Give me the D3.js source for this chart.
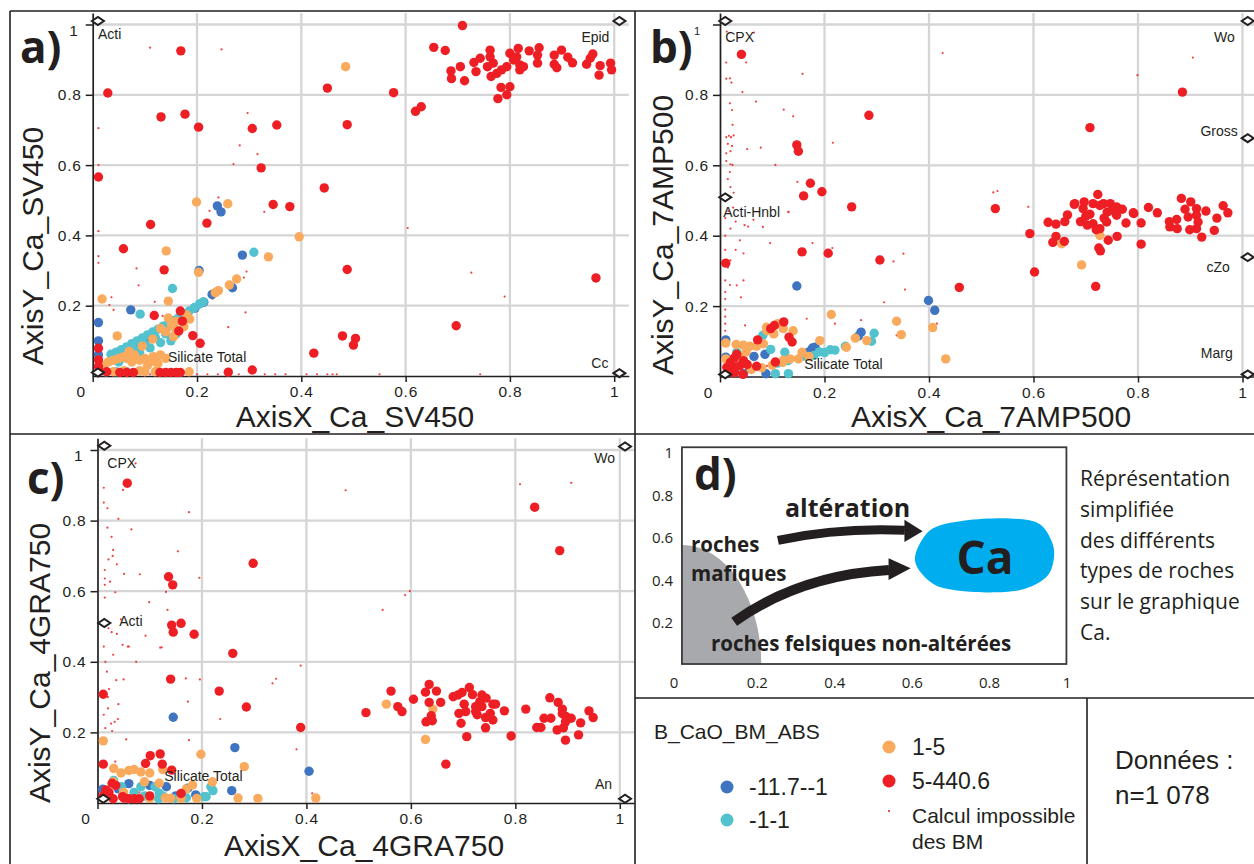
<!DOCTYPE html>
<html><head><meta charset="utf-8">
<script src="https://cdn.jsdelivr.net/npm/d3@7"></script>
<style>
body{margin:0;background:#fff}
svg{display:block}
</style></head><body>
<svg id="chart" width="1254" height="864"></svg>
<script>
// ---------------- DATA ----------------
const tickValues = [0, 0.2, 0.4, 0.6, 0.8, 1];
const tickLabels = ["0", "0.2", "0.4", "0.6", "0.8", "1"];
const legendTitle = "B_CaO_BM_ABS";
const classLabels = ["-11.7--1", "-1-1", "1-5", "5-440.6", "Calcul impossible", "des BM"];
const countLabel = ["Données :", "n=1 078"];

// Panel a) AxisX_Ca_SV450 / AxisY_Ca_SV450
const aRed = [[0.169,0.925],[0.029,0.805],[0.131,0.737],[0.177,0.745],[0.203,0.708],[0.306,0.704],[0.353,0.714],[0.011,0.566],[0.323,0.592],[0.346,0.488],[0.378,0.482],
[0.709,0.997],[0.654,0.935],[0.676,0.926],[0.687,0.868],[0.688,0.846],[0.705,0.880],[0.713,0.840],[0.731,0.892],[0.735,0.866],[0.743,0.904],[0.757,0.880],[0.762,0.927],[0.762,0.908],[0.768,0.890],[0.764,0.852],[0.775,0.861],[0.784,0.871],[0.794,0.880],[0.800,0.918],[0.807,0.899],[0.816,0.932],[0.819,0.885],[0.826,0.880],[0.813,0.908],[0.819,0.871],[0.783,0.821],[0.800,0.823],[0.777,0.789],[0.794,0.800],[0.837,0.925],[0.856,0.934],[0.853,0.913],[0.853,0.890],[0.885,0.913],[0.899,0.927],[0.885,0.887],[0.890,0.877],[0.911,0.907],[0.920,0.891],[0.947,0.887],[0.954,0.904],[0.959,0.916],[0.973,0.883],[0.971,0.856],[0.993,0.890],[0.995,0.871],
[0.450,0.819],[0.577,0.806],[0.619,0.753],[0.630,0.766],[0.488,0.715],[0.444,0.535],
[0.111,0.431],[0.219,0.435],[0.059,0.362],[0.137,0.302],[0.118,0.172],[0.168,0.185],[0.165,0.128],[0.192,0.115],[0.206,0.093],[0.172,0.156],
[0.011,0.079],[0.011,0.046],[0.011,0.027],[0.013,0.013],[0.027,0.012],[0.052,0.010],[0.065,0.010],[0.078,0.010],[0.129,0.010],[0.140,0.010],[0.150,0.010],[0.160,0.010],[0.168,0.010],[0.260,0.011],[0.306,0.017],[0.424,0.065],
[0.488,0.303],[0.479,0.114],[0.504,0.107],[0.500,0.088],[0.697,0.143],[0.965,0.279]];
const aOrange = [[0.485,0.880],[0.199,0.495],[0.259,0.490],[0.396,0.396],[0.141,0.356],[0.337,0.339],[0.203,0.295],[0.018,0.219],[0.145,0.213],[0.276,0.276],[0.262,0.259],[0.241,0.243],[0.235,0.237],[0.047,0.114],
[0.180,0.174],[0.186,0.162],[0.151,0.145],[0.155,0.112],[0.140,0.126],[0.130,0.135],[0.116,0.055],[0.122,0.046],[0.100,0.050],[0.090,0.045],[0.080,0.060],[0.070,0.070],[0.060,0.055],[0.050,0.050],[0.040,0.045],[0.030,0.040],[0.110,0.040],[0.125,0.035],[0.185,0.012],[0.120,0.012],[0.100,0.012],[0.090,0.015],[0.040,0.012],[0.060,0.015],[0.095,0.085],[0.115,0.105],[0.145,0.165],[0.160,0.155],[0.065,0.050],[0.075,0.040],[0.105,0.030],[0.130,0.060],[0.140,0.050],[0.020,0.030],[0.175,0.140],[0.160,0.130]];
const aBlue = [[0.239,0.484],[0.246,0.467],[0.287,0.344],[0.204,0.300],[0.268,0.251],[0.229,0.232],[0.213,0.210],[0.073,0.188],[0.011,0.152],[0.011,0.100],[0.196,0.193],[0.078,0.083],[0.011,0.060],[0.060,0.060],[0.100,0.095],[0.140,0.130]];
const aCyan = [[0.309,0.352],[0.153,0.249],[0.091,0.176],[0.212,0.211],[0.205,0.205],[0.035,0.062],[0.045,0.068],[0.055,0.075],[0.065,0.083],[0.075,0.092],[0.085,0.100],[0.095,0.108],[0.105,0.117],[0.115,0.125],[0.125,0.133],[0.135,0.142],[0.145,0.150],[0.155,0.158],[0.165,0.166],[0.175,0.175],[0.185,0.185],[0.195,0.195],[0.060,0.060],[0.080,0.075],[0.100,0.090],[0.120,0.110],[0.140,0.120],[0.130,0.095],[0.110,0.080],[0.090,0.065],[0.070,0.050],[0.050,0.040],[0.025,0.012],[0.045,0.012],[0.065,0.012],[0.160,0.120],[0.150,0.100]];
const aSmall = [[0.110,0.934],[0.247,0.929],[0.011,0.705],[0.011,0.600],[0.297,0.748],[0.282,0.656],[0.316,0.631],[0.270,0.603],[0.241,0.508],[0.224,0.470],[0.329,0.467],[0.011,0.412],[0.011,0.341],[0.011,0.322],[0.084,0.306],[0.088,0.258],[0.119,0.211],[0.036,0.224],[0.032,0.202],[0.040,0.188],[0.295,0.297],[0.293,0.181],[0.260,0.139],[0.134,0.171],[0.604,0.421],[0.726,0.294],[0.790,0.226],
[0.060,0.005],[0.090,0.005],[0.110,0.005],[0.180,0.005],[0.200,0.005],[0.220,0.005],[0.240,0.005],[0.280,0.005],[0.330,0.005],[0.350,0.005],[0.370,0.005],[0.410,0.005],[0.430,0.005],[0.450,0.005],[0.460,0.005],[0.468,0.005],[0.550,0.005],[0.743,0.005],
[0.050,0.050],[0.080,0.080],[0.110,0.100],[0.140,0.130],[0.170,0.160],[0.230,0.220],[0.260,0.250],[0.290,0.280]];
const aEnds = [["Acti",0.01,1.01],["Epid",1.01,1.01],["Cc",1.01,0.008],["Silicate Total",0.01,0.01]];

// Panel b) AxisX_Ca_7AMP500 / AxisY_Ca_7AMP500
const bRed = [[0.041,0.915],[0.285,0.742],[0.147,0.658],[0.150,0.640],[0.173,0.549],[0.160,0.513],[0.195,0.525],[0.252,0.482],
[0.885,0.808],[0.708,0.707],[0.527,0.477],[0.458,0.253],[0.602,0.297],[0.593,0.406],[0.719,0.256],[0.628,0.438],[0.643,0.433],[0.665,0.459],[0.637,0.381],[0.643,0.398],[0.659,0.384],
[0.679,0.491],[0.697,0.496],[0.723,0.517],[0.714,0.491],[0.734,0.491],[0.747,0.491],[0.759,0.482],[0.792,0.463],[0.837,0.465],[0.883,0.506],[0.901,0.496],[0.912,0.477],[0.963,0.485],[0.972,0.465],
[0.678,0.489],[0.695,0.477],[0.708,0.461],[0.727,0.486],[0.741,0.467],[0.759,0.458],[0.740,0.439],[0.777,0.436],[0.791,0.465],[0.806,0.436],[0.861,0.425],[0.874,0.446],[0.875,0.420],[0.896,0.453],[0.912,0.458],[0.915,0.439],[0.899,0.417],[0.912,0.420],[0.946,0.415],[0.951,0.450],[0.922,0.396],[0.703,0.430],[0.714,0.434],[0.727,0.420],[0.720,0.417],[0.743,0.387],[0.760,0.398],[0.725,0.365],[0.728,0.357],[0.806,0.376],
[0.752,0.472],[0.770,0.475],[0.700,0.455],[0.690,0.440],[0.735,0.450],[0.660,0.440],[0.860,0.440],[0.890,0.475],[0.930,0.470],[0.820,0.480],
[0.011,0.322],[0.157,0.354],[0.207,0.350],[0.306,0.331],[0.122,0.155],[0.104,0.145],[0.097,0.136],[0.072,0.104],[0.132,0.112],[0.138,0.098],[0.106,0.041],[0.032,0.063],[0.027,0.052],[0.013,0.026],[0.029,0.026],[0.038,0.031],[0.052,0.034],[0.070,0.029],[0.015,0.011],[0.028,0.011],[0.044,0.006],[0.020,0.040],[0.045,0.045]];
const bOrange = [[0.213,0.176],[0.338,0.157],[0.347,0.119],[0.407,0.139],[0.432,0.050],[0.281,0.102],[0.259,0.109],[0.242,0.083],[0.191,0.102],[0.121,0.136],[0.089,0.140],[0.103,0.121],[0.083,0.093],[0.070,0.086],[0.057,0.086],[0.045,0.089],[0.031,0.091],[0.011,0.095],[0.011,0.050],[0.038,0.055],[0.157,0.069],[0.134,0.050],[0.121,0.046],[0.060,0.020],[0.080,0.025],[0.100,0.032],[0.120,0.040],[0.150,0.050],[0.170,0.057],[0.692,0.317],[0.727,0.401],[0.654,0.377],[0.140,0.130],[0.110,0.150],[0.090,0.130],[0.020,0.030],[0.050,0.070]];
const bBlue = [[0.147,0.257],[0.399,0.216],[0.411,0.188],[0.270,0.126],[0.065,0.057],[0.086,0.063],[0.011,0.104],[0.011,0.055],[0.088,0.008],[0.177,0.081],[0.182,0.083],[0.045,0.008],[0.170,0.070],[0.265,0.115]];
const bCyan = [[0.295,0.123],[0.290,0.100],[0.240,0.086],[0.211,0.076],[0.097,0.077],[0.082,0.117],[0.131,0.008],[0.106,0.008],[0.124,0.069],[0.032,0.069],[0.130,0.045],[0.180,0.060],[0.200,0.068],[0.220,0.075],[0.190,0.070],[0.160,0.058],[0.110,0.038]];
const bSmall = [[0.012,0.892],[0.012,0.846],[0.019,0.847],[0.022,0.835],[0.019,0.776],[0.023,0.757],[0.024,0.715],[0.017,0.684],[0.021,0.680],[0.026,0.685],[0.012,0.680],[0.015,0.661],[0.023,0.655],[0.020,0.640],[0.012,0.634],[0.012,0.612],[0.020,0.603],[0.024,0.601],[0.019,0.581],[0.015,0.561],[0.020,0.538],[0.026,0.522],[0.050,0.892],[0.043,0.808],[0.069,0.781],[0.052,0.646],[0.078,0.650],[0.106,0.601],[0.122,0.758],[0.140,0.739],[0.158,0.860],[0.216,0.664],[0.148,0.553],[0.131,0.467],[0.065,0.977],[0.013,0.980],[0.426,0.919],[0.905,0.906],[0.799,0.856],[0.523,0.523],[0.531,0.527],[0.590,0.482],
[0.010,0.273],[0.010,0.240],[0.010,0.220],[0.010,0.190],[0.010,0.170],[0.010,0.150],[0.010,0.130],[0.010,0.400],[0.010,0.360],[0.010,0.450],[0.019,0.260],[0.032,0.259],[0.040,0.225],[0.045,0.273],[0.047,0.430],[0.054,0.426],[0.064,0.445],[0.082,0.425],[0.096,0.379],[0.131,0.468],[0.177,0.379],[0.215,0.365],[0.332,0.327],[0.351,0.349],[0.354,0.247],[0.314,0.211],[0.270,0.160],[0.220,0.150],[0.166,0.164],[0.048,0.145],[0.338,0.117],[0.415,0.150],[0.045,0.350],[0.030,0.360],[0.038,0.387],[0.050,0.020],[0.090,0.030],[0.130,0.045],[0.160,0.055],[0.190,0.065],[0.012,0.500],[0.016,0.470],[0.025,0.480],[0.030,0.440],[0.020,0.420],[0.015,0.310],[0.020,0.330]];
const bEnds = [["CPX",0.01,1.01],["Wo",1.01,1.01],["Gross",1.01,0.677],["Acti-Hnbl",0.01,0.509],["cZo",1.01,0.339],["Marg",1.01,0.006],["Silicate Total",0.01,0.006]];

// Panel c) AxisX_Ca_4GRA750 / AxisY_Ca_4GRA750
const cRed = [[0.057,0.906],[0.298,0.679],[0.136,0.641],[0.144,0.618],[0.142,0.504],[0.160,0.509],[0.145,0.484],[0.185,0.478],[0.837,0.838],[0.885,0.715],
[0.259,0.424],[0.140,0.351],[0.011,0.308],[0.233,0.317],[0.285,0.272],[0.389,0.214],[0.011,0.110],[0.101,0.134],[0.120,0.139],[0.092,0.112],[0.124,0.110],[0.142,0.093],[0.028,0.056],[0.035,0.050],[0.016,0.037],[0.022,0.030],[0.048,0.018],[0.051,0.014],[0.060,0.012],[0.070,0.012],[0.160,0.027],[0.667,0.110],
[0.514,0.256],[0.562,0.317],[0.575,0.273],[0.583,0.259],[0.605,0.294],[0.628,0.314],[0.635,0.336],[0.649,0.317],[0.635,0.285],[0.657,0.285],[0.629,0.230],[0.639,0.247],[0.641,0.233],[0.681,0.301],[0.690,0.306],[0.698,0.313],[0.712,0.327],[0.718,0.307],[0.702,0.280],[0.692,0.254],[0.705,0.259],[0.696,0.226],[0.707,0.188],[0.724,0.273],[0.724,0.259],[0.732,0.287],[0.736,0.306],[0.744,0.297],[0.736,0.273],[0.727,0.250],[0.743,0.242],[0.757,0.280],[0.762,0.280],[0.752,0.254],[0.757,0.235],[0.743,0.213],[0.779,0.261],[0.792,0.190],[0.820,0.266],[0.841,0.214],[0.849,0.214],[0.855,0.240],[0.866,0.298],[0.868,0.240],[0.880,0.207],[0.882,0.285],[0.890,0.266],[0.890,0.253],[0.896,0.230],[0.892,0.213],[0.897,0.245],[0.896,0.178],[0.907,0.240],[0.921,0.193],[0.925,0.227],[0.941,0.261],[0.949,0.242],[0.011,0.020],[0.030,0.012],[0.080,0.012],[0.100,0.020]];
const cOrange = [[0.553,0.280],[0.642,0.266],[0.628,0.180],[0.011,0.176],[0.198,0.138],[0.281,0.103],[0.031,0.098],[0.045,0.085],[0.060,0.092],[0.070,0.095],[0.083,0.088],[0.100,0.085],[0.118,0.056],[0.182,0.051],[0.307,0.013],[0.269,0.014],[0.418,0.014],[0.130,0.015],[0.080,0.013],[0.100,0.013],[0.140,0.013],[0.160,0.013],[0.190,0.013],[0.030,0.060],[0.220,0.060],[0.050,0.030],[0.125,0.095],[0.170,0.040],[0.090,0.060]];
const cBlue = [[0.145,0.243],[0.263,0.157],[0.405,0.090],[0.257,0.035],[0.132,0.046],[0.060,0.055],[0.173,0.042],[0.188,0.023],[0.010,0.039],[0.100,0.050],[0.040,0.040],[0.150,0.020]];
const cCyan = [[0.217,0.046],[0.221,0.035],[0.110,0.046],[0.118,0.028],[0.083,0.046],[0.046,0.046],[0.031,0.064],[0.204,0.018],[0.208,0.018],[0.117,0.012],[0.146,0.012],[0.070,0.030],[0.090,0.020],[0.125,0.020],[0.060,0.012],[0.170,0.015]];
const cSmall = [[0.012,0.893],[0.012,0.851],[0.019,0.835],[0.040,0.805],[0.065,0.775],[0.019,0.780],[0.027,0.754],[0.030,0.717],[0.029,0.700],[0.021,0.690],[0.014,0.660],[0.037,0.676],[0.014,0.636],[0.024,0.627],[0.014,0.618],[0.034,0.597],[0.051,0.649],[0.081,0.648],[0.099,0.569],[0.131,0.598],[0.134,0.547],[0.154,0.713],[0.175,0.824],[0.195,0.638],[0.073,0.962],[0.049,0.887],[0.014,0.582],[0.021,0.495],[0.027,0.484],[0.037,0.479],[0.092,0.474],[0.058,0.443],[0.123,0.441],[0.475,0.886],[0.809,0.903],[0.907,0.907],[0.589,0.589],[0.598,0.600],[0.546,0.547],[0.012,0.443],[0.048,0.448],[0.060,0.443],[0.018,0.372],[0.036,0.348],[0.020,0.268],[0.026,0.225],[0.033,0.230],[0.015,0.212],[0.028,0.204],[0.039,0.238],[0.055,0.180],[0.022,0.323],[0.034,0.117],[0.169,0.353],[0.173,0.287],[0.196,0.350],[0.235,0.238],[0.175,0.178],[0.335,0.339],[0.342,0.352],[0.389,0.389],[0.381,0.152],[0.411,0.027],[0.074,0.400],[0.120,0.440],[0.015,0.400],[0.030,0.420],[0.020,0.300],[0.040,0.280],[0.012,0.250],[0.050,0.350],[0.045,0.520],[0.100,0.090],[0.080,0.030]];
const cEnds = [["CPX",0.013,1.012],["Wo",1.01,1.01],["Acti",0.013,0.51],["An",1.01,0.012],["Silicate Total",0.011,0.012]];

// Panel d) schematic (values in the schematic's own 0-1 axes)
const dTickValues = [0, 0.2, 0.4, 0.6, 0.8, 1];
const dBlob = [[0.607,0.495],[0.646,0.636],[0.736,0.682],[0.853,0.692],[0.930,0.665],[0.966,0.551],[0.951,0.425],[0.879,0.355],[0.762,0.346],[0.659,0.379]];
const dArrowTop = [[0.253,0.589],[0.413,0.650],[0.581,0.636]];
const dArrowTopHead = [[0.580,0.686],[0.627,0.632],[0.580,0.581]];
const dArrowBottom = [[0.140,0.206],[0.310,0.425],[0.540,0.449]];
const dArrowBottomHead = [[0.539,0.505],[0.596,0.458],[0.539,0.402]];
const dFelsicRegion = {rx: 0.205, ry: 0.56};
const dNote = ["Réprésentation","simplifiée","des différents","types de roches","sur le graphique","Ca."];

// ---------------- STYLE / LAYOUT ----------------
const INK = "#231f20";
const COL = {blue:"#3f74c1", cyan:"#52c3ce", orange:"#f9aa5d", red:"#ed1f24", small:"#ed1f24"};
const SANS = "'Liberation Sans', Arial, sans-serif";
const HUM = "'Open Sans', 'Noto Sans', sans-serif";
const svg = d3.select("#chart");

const endLabelStyle = {
  a:{"Acti":[0,18,"start"],"Epid":[-10,21,"end"],"Cc":[-11,-5,"end"],"Silicate Total":[70,-10,"start"]},
  b:{"CPX":[0,21,"start"],"Wo":[-13,21,"end"],"Gross":[-10,-2,"end"],"Acti-Hnbl":[-2,20,"start"],"cZo":[-18,15,"end"],"Marg":[-15,-16,"end"],"Silicate Total":[79,-5,"start"]},
  c:{"CPX":[3,22,"start"],"Wo":[-10,17,"end"],"Acti":[15,3,"start"],"An":[-13,-10,"end"],"Silicate Total":[61,-18,"start"]}
};

const panels = [
  {id:"a", xr:[92.7,614.2], yr:[376,24.5], pts:{small:aSmall,blue:aBlue,cyan:aCyan,orange:aOrange,red:aRed}, ends:aEnds,
   xTitle:"AxisX_Ca_SV450", yTitle:"AxisY_Ca_SV450", xt:[355,427], yt:[43,246], label:"a)", lp:[20,63], oneSmall:false},
  {id:"b", xr:[720,1242.5], yr:[376.5,24.5], pts:{small:bSmall,blue:bBlue,cyan:bCyan,orange:bOrange,red:bRed}, ends:bEnds,
   xTitle:"AxisX_Ca_7AMP500", yTitle:"AxisY_Ca_7AMP500", xt:[991,427], yt:[673,235], label:"b)", lp:[650,63], oneSmall:true},
  {id:"c", xr:[97.5,619.8], yr:[803,450], pts:{small:cSmall,blue:cBlue,cyan:cCyan,orange:cOrange,red:cRed}, ends:cEnds,
   xTitle:"AxisX_Ca_4GRA750", yTitle:"AxisY_Ca_4GRA750", xt:[364,856], yt:[50,663], label:"c)", lp:[27,494], oneSmall:false}
];

function drawPanel(p){
  const g = svg.append("g").attr("class","panel-"+p.id);
  const ext = 1.028;
  const x = d3.scaleLinear().domain([0,1]).range(p.xr);
  const y = d3.scaleLinear().domain([0,1]).range(p.yr);
  const gridVals = tickValues.filter(v => v > 0);
  g.append("g").selectAll("line").data(gridVals).join("line")
    .attr("x1", d => x(d)).attr("x2", d => x(d)).attr("y1", y(0)).attr("y2", y(ext + 0.005))
    .attr("stroke", "#d5d5d5").attr("stroke-width", 2.3);
  g.append("g").selectAll("line").data(gridVals).join("line")
    .attr("y1", d => y(d)).attr("y2", d => y(d)).attr("x1", x(0)).attr("x2", x(ext))
    .attr("stroke", "#d5d5d5").attr("stroke-width", 2.3);
  const xa = d3.scaleLinear().domain([0, ext]).range([x(0), x(ext)]);
  const ya = d3.scaleLinear().domain([0, ext + 0.005]).range([y(0), y(ext + 0.005)]);
  const gx = g.append("g").attr("transform", `translate(0,${y(0)})`)
    .call(d3.axisBottom(xa).tickValues(tickValues).tickFormat((d,i) => tickLabels[i]).tickSize(6).tickSizeOuter(0).tickPadding(4));
  const gy = g.append("g").attr("transform", `translate(${x(0)},0)`)
    .call(d3.axisLeft(ya).tickValues(tickValues.slice(1)).tickFormat((d,i) => tickLabels[i+1]).tickSize(7).tickSizeOuter(0).tickPadding(4));
  [gx, gy].forEach(ax => {
    ax.attr("font-family", null).attr("font-size", null);
    ax.select(".domain").attr("stroke", INK).attr("stroke-width", 1.7);
    ax.selectAll(".tick line").attr("stroke", INK).attr("stroke-width", 1.5);
    ax.selectAll(".tick text").attr("fill", INK).style("font-family", SANS).style("font-size", "15.5px").style("letter-spacing", "0.8px");
  });
  gx.selectAll(".tick text").filter(d => d === 0).attr("x", -12);
  const one = gy.selectAll(".tick text").filter(d => d === 1);
  if (p.oneSmall) one.style("font-size", "11px").attr("x", -19).attr("dy", "0.9em");
  else one.attr("x", -14).attr("dy", "0.7em");

  const order = [["small",1.1],["blue",4.7],["cyan",4.7],["orange",4.7],["red",4.7]];
  order.forEach(([k, r]) => {
    g.append("g").selectAll("circle").data(p.pts[k]).join("circle")
      .attr("cx", d => x(d[0])).attr("cy", d => y(d[1])).attr("r", r)
      .attr("fill", COL[k]).attr("opacity", k === "small" ? 0.85 : 1);
  });

  const eg = g.append("g");
  p.ends.forEach(([name, ex, ey]) => {
    const px = x(ex), py = y(ey);
    eg.append("path").attr("d", "M-6,0L0,-4L6,0L0,4Z").attr("transform", `translate(${px},${py})`)
      .attr("fill", "#fff").attr("stroke", INK).attr("stroke-width", 2);
    const st = endLabelStyle[p.id][name];
    eg.append("text").attr("x", px + st[0]).attr("y", py + st[1]).attr("text-anchor", st[2])
      .attr("fill", INK).style("font-family", SANS).style("font-size", "14px").text(name);
  });

  g.append("text").attr("x", p.xt[0]).attr("y", p.xt[1]).attr("text-anchor", "middle")
    .attr("fill", INK).style("font-family", SANS).style("font-size", "30px").text(p.xTitle);
  g.append("text").attr("transform", `translate(${p.yt[0]},${p.yt[1]}) rotate(-90)`).attr("text-anchor", "middle")
    .attr("fill", INK).style("font-family", SANS).style("font-size", "30px").text(p.yTitle);
  g.append("text").attr("x", p.lp[0]).attr("y", p.lp[1])
    .attr("fill", INK).style("font-family", HUM).style("font-weight", 700).style("font-size", "44px").text(p.label);
}
panels.forEach(drawPanel);

// ---------------- PANEL FRAMES ----------------
const frame = svg.append("g").attr("stroke", INK).attr("stroke-width", 1.6);
[[10,11,1254,11],[10,11,10,864],[635,11,635,864],[10,434,1254,434],[635,698,1254,698],[1087,698,1087,864]]
  .forEach(l => frame.append("line").attr("x1",l[0]).attr("y1",l[1]).attr("x2",l[2]).attr("y2",l[3]));

// ---------------- PANEL d ----------------
const dx = d3.scaleLinear().domain([0,1]).range([680, 1067]);
const dy = d3.scaleLinear().domain([0,1]).range([665.5, 453]);
const dg = svg.append("g");
const bx0 = dx(0.005), bx1 = dx(0.9985), by0 = dy(0.007), by1 = dy(1.027);
const rxp = dx(dFelsicRegion.rx) - dx(0), ryp = dy(0) - dy(dFelsicRegion.ry);
dg.append("path").attr("d", `M${bx0},${by0}L${bx0},${by0-ryp}A${rxp},${ryp} 0 0 1 ${bx0+rxp},${by0}Z`).attr("fill", "#a7a9ac");
dg.append("rect").attr("x", bx0).attr("y", by1).attr("width", bx1-bx0).attr("height", by0-by1)
  .attr("fill", "none").attr("stroke", "#3a3a3a").attr("stroke-width", 1.8);
dg.append("path").attr("d", d3.line().x(d => dx(d[0])).y(d => dy(d[1])).curve(d3.curveCardinalClosed.tension(0.1))(dBlob)).attr("fill", "#00aeef");
const qpath = pts => `M${dx(pts[0][0])},${dy(pts[0][1])}Q${dx(pts[1][0])},${dy(pts[1][1])} ${dx(pts[2][0])},${dy(pts[2][1])}`;
const tri = pts => "M" + pts.map(d => `${dx(d[0])},${dy(d[1])}`).join("L") + "Z";
dg.append("path").attr("d", qpath(dArrowTop)).attr("fill", "none").attr("stroke", INK).attr("stroke-width", 9);
dg.append("path").attr("d", tri(dArrowTopHead)).attr("fill", INK);
dg.append("path").attr("d", qpath(dArrowBottom)).attr("fill", "none").attr("stroke", INK).attr("stroke-width", 10);
dg.append("path").attr("d", tri(dArrowBottomHead)).attr("fill", INK);
const dtext = (t, xx, yy, size, weight, anchor) => dg.append("text").attr("x", xx).attr("y", yy)
  .attr("text-anchor", anchor || "start").attr("fill", INK).style("font-family", HUM)
  .style("font-size", size + "px").style("font-weight", weight).text(t);
dtext("d)", 694, 490, 44, 700);
dtext("altération", 785, 517, 25, 700);
dtext("roches", 691, 552, 20.5, 700);
dtext("mafiques", 691, 581, 20.5, 700);
dtext("roches felsiques non-altérées", 711, 651, 20.5, 700);
dtext("Ca", 985, 574, 46, 700, "middle");
dTickValues.filter(v => v > 0).forEach(v => {
  dg.append("text").attr("x", 673).attr("y", dy(v)).attr("dy", "0.35em").attr("text-anchor", "end")
    .attr("fill", INK).style("font-family", HUM).style("font-size", "15px").text(tickLabels[tickValues.indexOf(v)]);
});
dTickValues.forEach(v => {
  dg.append("text").attr("x", dx(v) + (v === 0 ? -6 : 0)).attr("y", 688).attr("text-anchor", "middle")
    .attr("fill", INK).style("font-family", HUM).style("font-size", "15px").text(tickLabels[tickValues.indexOf(v)]);
});
dNote.forEach((t, i) => dtext(t, 1080, 486 + i * 30.8, 21, 400));

// ---------------- LEGEND ----------------
const lg = svg.append("g");
lg.append("text").attr("x", 654).attr("y", 739).attr("fill", INK).style("font-family", SANS).style("font-size", "21px").text(legendTitle);
const legendItems = [
  {k:"blue", cx:727, cy:787, tx:749, ty:795, r:6.5, fs:23, lab:[classLabels[0]]},
  {k:"cyan", cx:727, cy:820, tx:749, ty:828, r:6.5, fs:23, lab:[classLabels[1]]},
  {k:"orange", cx:889, cy:747, tx:912, ty:755, r:6.5, fs:23, lab:[classLabels[2]]},
  {k:"red", cx:889, cy:781, tx:912, ty:789, r:6.5, fs:23, lab:[classLabels[3]]},
  {k:"small", cx:889, cy:811, tx:912, ty:823, r:1.1, fs:21, lab:[classLabels[4], classLabels[5]]}
];
legendItems.forEach(it => {
  lg.append("circle").attr("cx", it.cx).attr("cy", it.cy).attr("r", it.r).attr("fill", COL[it.k]);
  it.lab.forEach((t, i) => lg.append("text").attr("x", it.tx).attr("y", it.ty + i * 26).attr("fill", INK)
    .style("font-family", SANS).style("font-size", it.fs + "px").text(t));
});
countLabel.forEach((t, i) => lg.append("text").attr("x", 1115).attr("y", 769 + i * 35).attr("fill", INK)
  .style("font-family", SANS).style("font-size", "26px").text(t));
</script>
</body></html>
